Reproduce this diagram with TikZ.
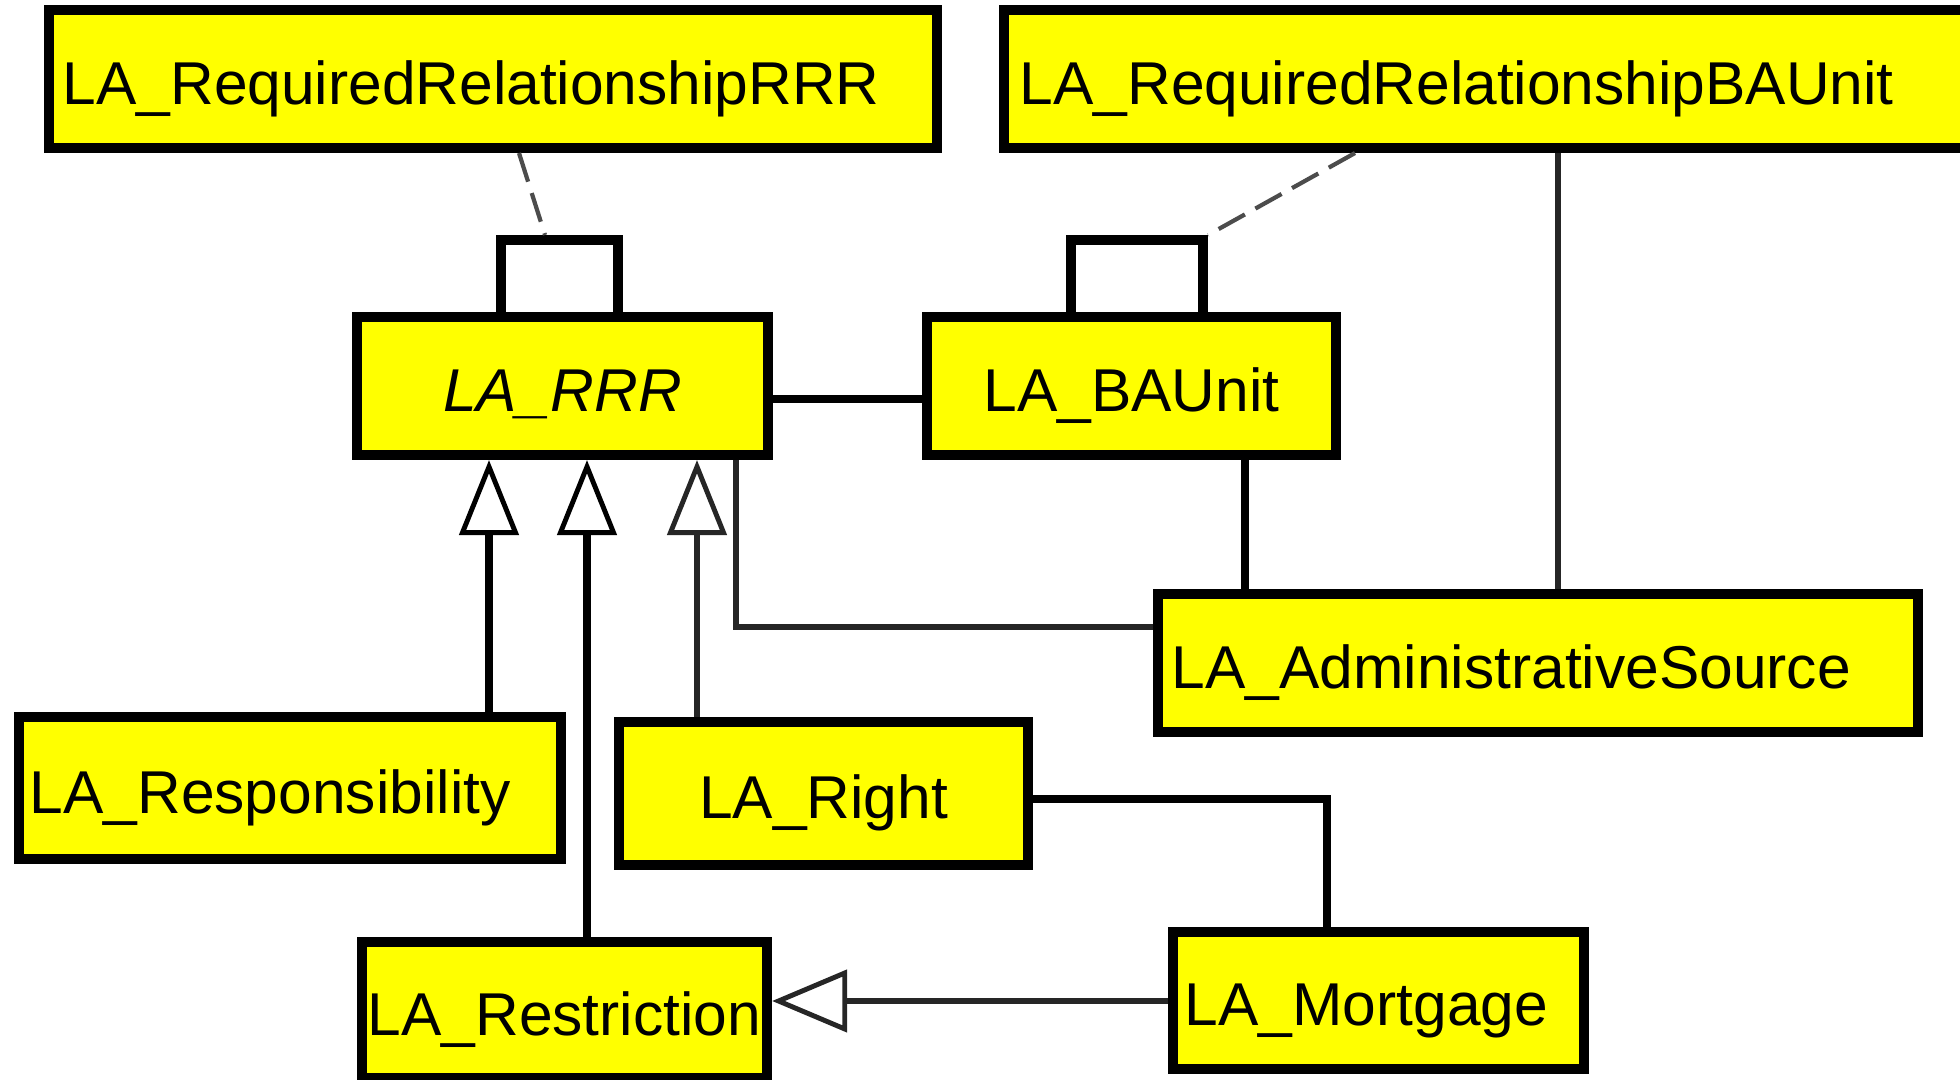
\documentclass[tikz,border=0pt]{standalone}
\usepackage{fontspec}
\setmainfont{Liberation Sans}
\usetikzlibrary{arrows.meta}
\definecolor{clsyellow}{RGB}{255,255,0}

\begin{document}
\begin{tikzpicture}[x=0.01cm, y=-0.01cm,
	cls/.style={draw, fill=clsyellow, line width=2.85pt, inner sep=0pt, minimum height=1.38cm, text height=14.5pt, text depth=0pt, font=\fontsize{17.2}{20}\selectfont},
	lcls/.style={cls, align=left, text width=#1},
	qual/.style={draw, fill=white, line width=2.85pt, inner sep=0pt, minimum height=0.77cm},
	assoc/.style={line width=2.3pt},
	weak/.style={line width=1.7pt, black!85},
	dep/.style={line width=1.2pt, black!70, dash pattern=on 0.3cm off 0.12cm},
	gen/.style={-{Triangle[open, length=0.75cm, width=#1, line width=1.4pt]}},
	gen/.default=0.59cm]
		
		\useasboundingbox (0,0) rectangle (1960,1080);
		\clip (0,0) rectangle (1960,1080);
		
		% Required relationships in alto
		\node[lcls=8.6cm, minimum width=8.88cm] (reqrrr) at (493,79) {LA\_RequiredRelationshipRRR};
		\node[lcls=9.64cm, minimum width=9.96cm] (reqba) at (1502,79) {LA\_RequiredRelationshipBAUnit};
		
		% RRR e BAUnit con i qualificatori
		\node[cls, minimum width=4.11cm] (rrr) at (562.5,386) {\itshape LA\_RRR};
		\node[cls, minimum width=4.09cm] (baunit) at (1131.5,386) {LA\_BAUnit};
		\node[qual, minimum width=1.17cm] (qr) at (559.5,278.5) {};
		\node[qual, minimum width=1.32cm] (qb) at (1137,278.5) {};
		
		% Sottoclassi e fonte
		\node[lcls=7.32cm, minimum width=7.6cm] (admin) at (1538,663) {LA\_AdministrativeSource};
		\node[lcls=5.2cm, minimum width=5.42cm, minimum height=1.42cm] (resp) at (290,788) {LA\_Responsibility};
		\node[cls, minimum width=4.09cm, minimum height=1.43cm] (right) at (823.5,793.5) {LA\_Right};
		\node[cls, minimum width=4.05cm, minimum height=1.36cm] (restr) at (564.5,1010) {LA\_Restriction};
		\node[lcls=3.87cm, minimum width=4.11cm, minimum height=1.37cm] (mort) at (1378.5,1000.5) {LA\_Mortgage};
		
		% Dipendenze tratteggiate
		\draw[dep] (519,0 |- reqrrr.south) -- (545,0 |- qr.north);
		\draw[dep] (1355,0 |- reqba.south) -- (qb.north east);
		
		% Associazioni
		\draw[assoc] (rrr.east |- 0,399) -- (baunit.west |- 0,399);
		\draw[assoc] (1245,0 |- baunit.south) -- (1245,0 |- admin.north);
		\draw[weak] (1558,0 |- reqba.south) -- (1558,0 |- admin.north);
		\draw[weak] (736,0 |- rrr.south) |- (admin.west |- 0,627);
		\draw[assoc] (right.east |- 0,799) -| (1327,0 |- mort.north);
		
		% Generalizzazioni
		\draw[assoc, gen] (489,0 |- resp.north) -- (489,0 |- rrr.south);
		\draw[assoc, gen] (587,0 |- restr.north) -- (587,0 |- rrr.south);
		\draw[weak, gen] (697,0 |- right.north) -- (697,0 |- rrr.south);
		\draw[weak, gen=0.62cm] (mort.west |- 0,1001) -- (restr.east |- 0,1001);
		
	\end{tikzpicture}
\end{document}
